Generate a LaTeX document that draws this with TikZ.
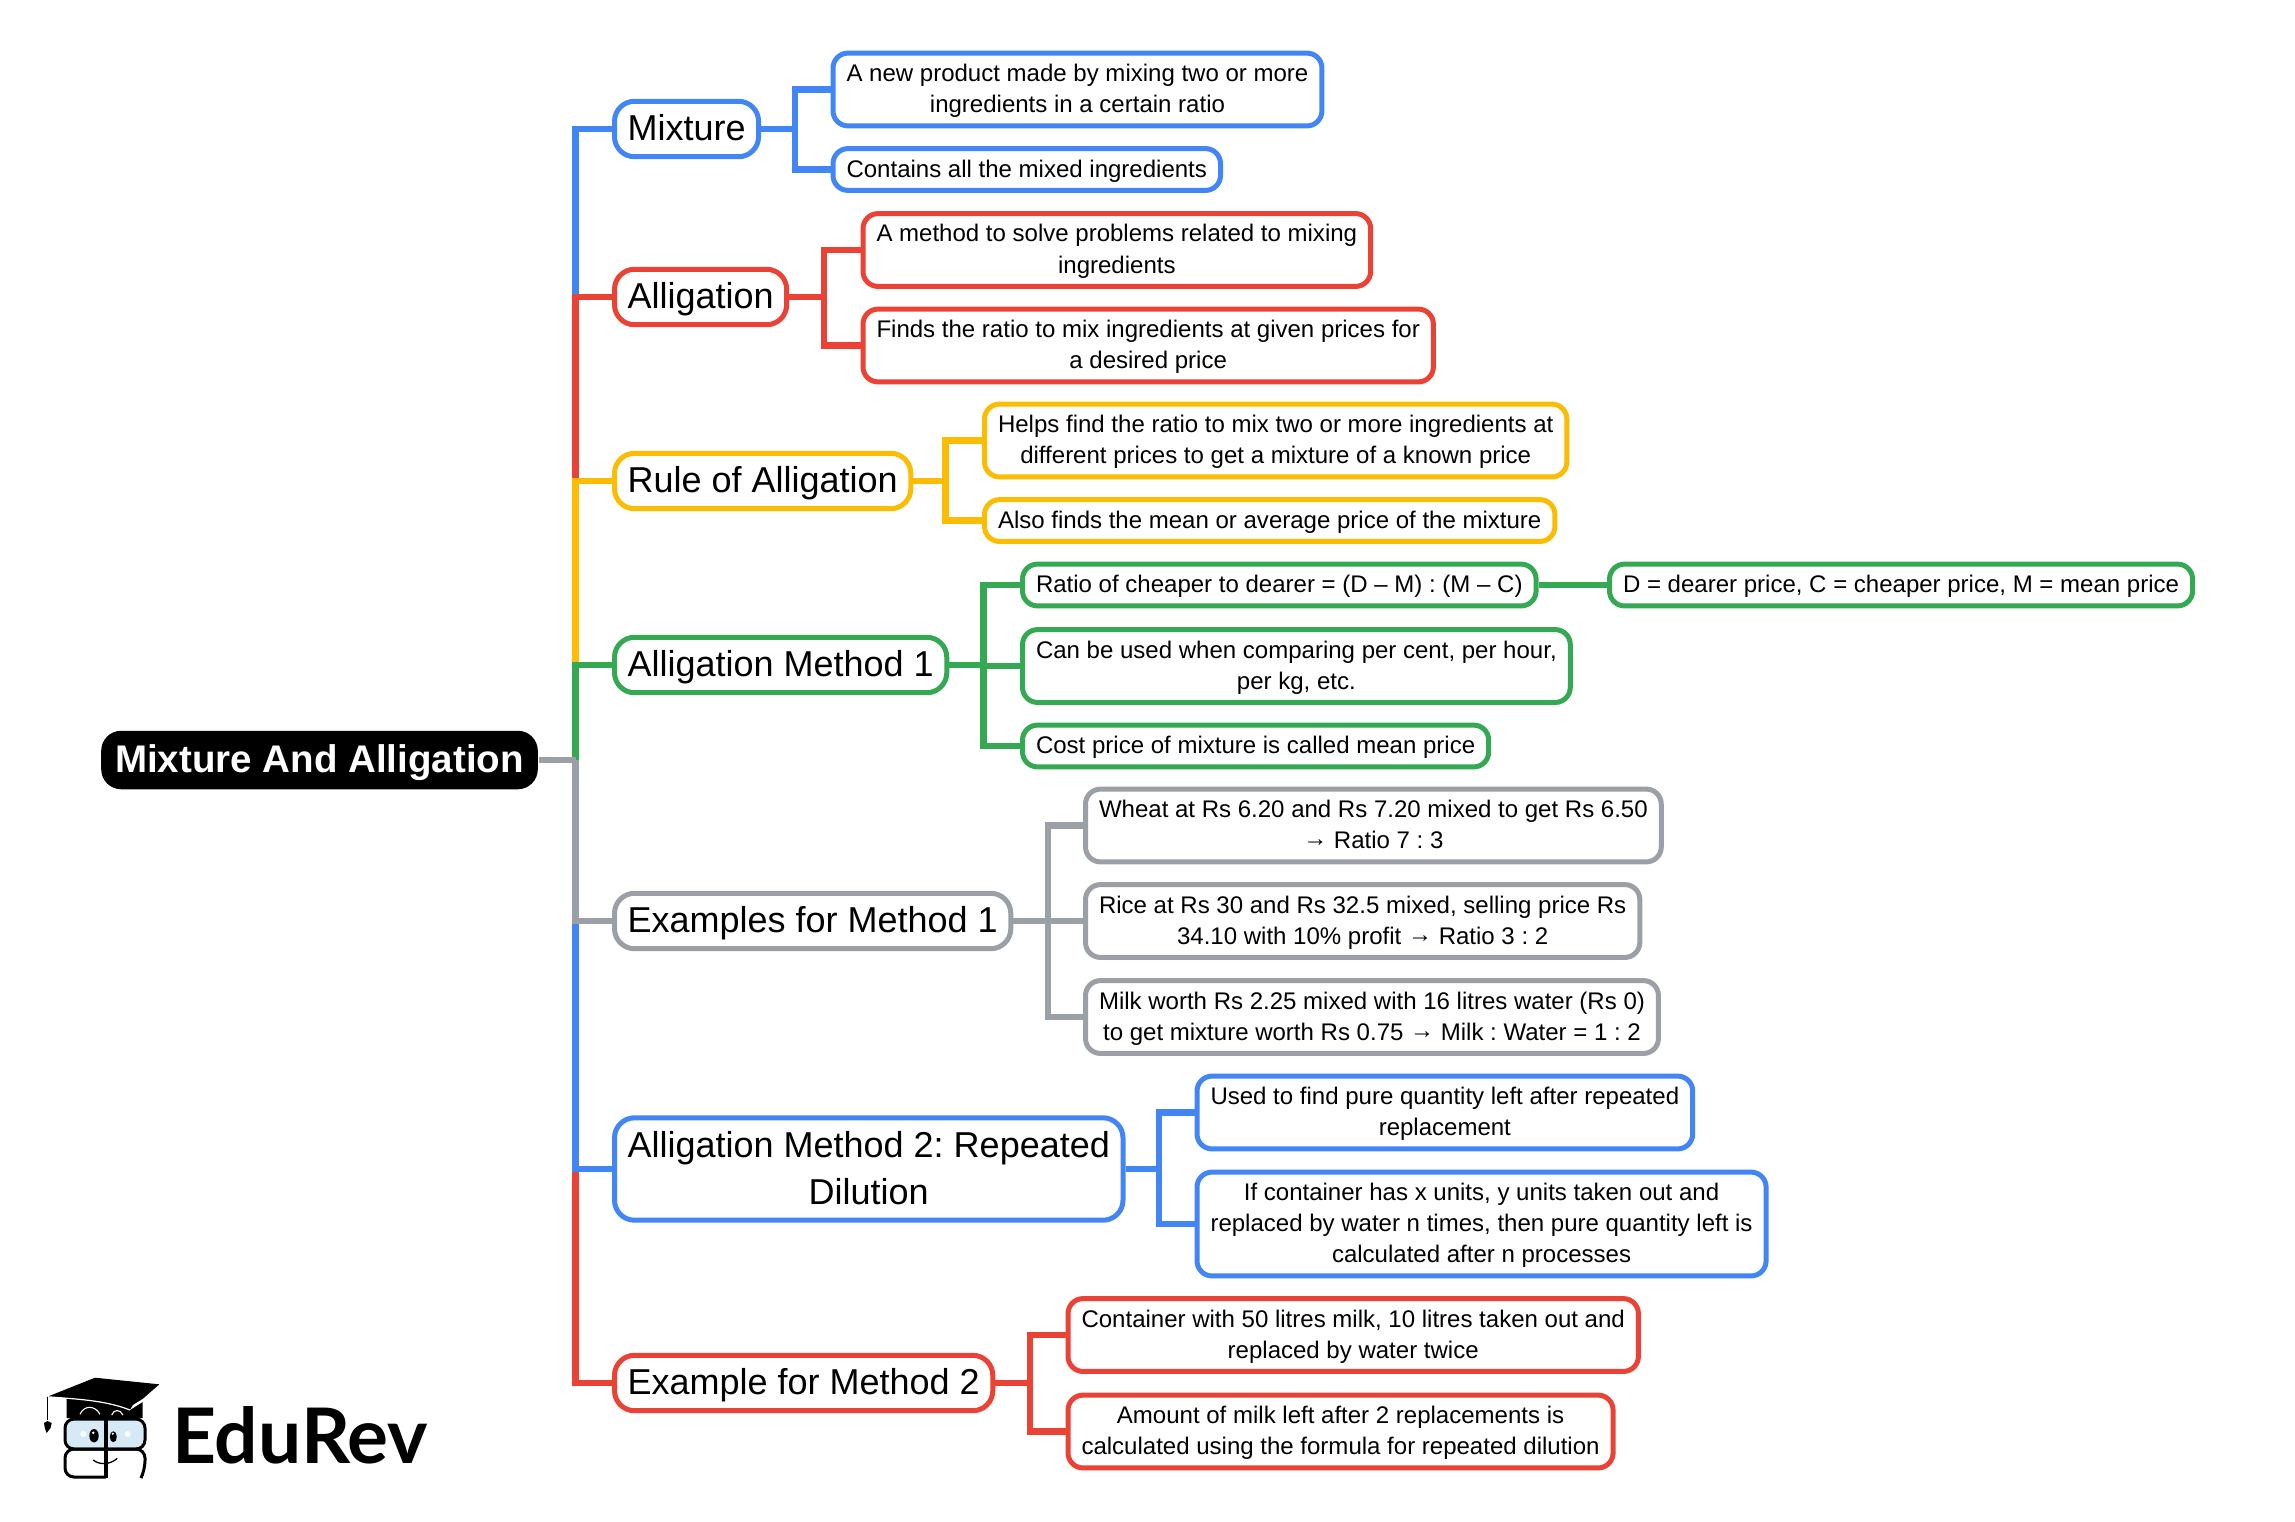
\documentclass[tikz,border=0pt]{standalone}
\usepackage{fontspec}
\setmainfont{Liberation Sans}
\newfontfamily\logofont{Lato}
\frenchspacing
\definecolor{cblue}{HTML}{4285F4}
\definecolor{cred}{HTML}{EA4335}
\definecolor{cyellow}{HTML}{FBBC04}
\definecolor{cgreen}{HTML}{34A853}
\definecolor{cgray}{HTML}{9AA0A6}
\definecolor{clens}{HTML}{D6E9F6}
\newcommand{\yields}{\raisebox{0.02cm}{→}}
\tikzset{root/.style={anchor=west,fill=black,text=white,rounded corners=0.2cm,inner xsep=0.14cm,inner ysep=0.14cm,text depth=0.026cm,font=\fontsize{10.95pt}{13.37pt}\selectfont\bfseries}}
\tikzset{topic/.style={anchor=west,draw=#1,line width=0.05cm,rounded corners=0.2cm,align=center,inner xsep=0.13cm,inner ysep=0.135cm,text depth=0.023cm,font=\fontsize{10.24pt}{13.37pt}\selectfont}}
\tikzset{leaf/.style={anchor=west,draw=#1,line width=0.05cm,rounded corners=0.15cm,align=center,inner xsep=0.135cm,inner ysep=0.11cm,text depth=0.024cm,font=\fontsize{6.83pt}{8.82pt}\selectfont}}
\tikzset{link/.style={draw=#1,line width=0.062cm}}
\begin{document}
\begin{tikzpicture}[x=0.01cm,y=-0.01cm]
\useasboundingbox (0,0) rectangle (2295,1521);
\node (root) at (100.5,760) [root] {Mixture And Alligation};
\node (mix) at (612,129) [topic=cblue] {Mixture};
\node (allig) at (612,297) [topic=cred] {Alligation};
\node (rule) at (612,481) [topic=cyellow] {Rule of Alligation};
\node (one) at (612,665) [topic=cgreen] {Alligation Method 1};
\node (exone) at (612,921) [topic=cgray] {Examples for Method 1};
\node (two) at (612,1169) [topic=cblue] {Alligation Method 2: Repeated\\Dilution};
\node (extwo) at (612,1383) [topic=cred] {Example for Method 2};
\coordinate (trunk) at (575.5,760);
\coordinate (mixbus) at (795,129);
\coordinate (alligbus) at (824,297);
\coordinate (rulebus) at (945.5,481);
\coordinate (onebus) at (983.5,665);
\coordinate (exonebus) at (1048,921);
\coordinate (twobus) at (1159,1169);
\coordinate (extwobus) at (1030,1383);
\node (mixa) at (830.5,89.5) [leaf=cblue] {A new product made by mixing two or more\\ingredients in a certain ratio};
\node (mixb) at (830.5,169.5) [leaf=cblue] {Contains all the mixed ingredients};
\node (alliga) at (860.5,250) [leaf=cred] {A method to solve problems related to mixing\\ingredients};
\node (alligb) at (860.5,345.5) [leaf=cred] {Finds the ratio to mix ingredients at given prices for\\a desired price};
\node (rulea) at (982,440.5) [leaf=cyellow] {Helps find the ratio to mix two or more ingredients at\\different prices to get a mixture of a known price};
\node (ruleb) at (982,520.5) [leaf=cyellow] {Also finds the mean or average price of the mixture};
\node (onea) at (1020,585) [leaf=cgreen] {Ratio of cheaper to dearer = (D -- M) : (M -- C)};
\node (oneaa) at (1607,585) [leaf=cgreen] {D = dearer price, C = cheaper price, M = mean price};
\node (oneb) at (1020,666) [leaf=cgreen] {Can be used when comparing per cent, per hour,\\per kg, etc.};
\node (onec) at (1020,746) [leaf=cgreen] {Cost price of mixture is called mean price};
\node (exonea) at (1083,825.5) [leaf=cgray] {Wheat at Rs 6.20 and Rs 7.20 mixed to get Rs 6.50\\\yields{} Ratio 7 : 3};
\node (exoneb) at (1083,921) [leaf=cgray] {Rice at Rs 30 and Rs 32.5 mixed, selling price Rs\\34.10 with 10\% profit \yields{} Ratio 3 : 2};
\node (exonec) at (1083,1017) [leaf=cgray] {Milk worth Rs 2.25 mixed with 16 litres water (Rs 0)\\to get mixture worth Rs 0.75 \yields{} Milk : Water = 1 : 2};
\node (twoa) at (1194.5,1112.5) [leaf=cblue] {Used to find pure quantity left after repeated\\replacement};
\node (twob) at (1194.5,1224) [leaf=cblue] {If container has x units, y units taken out and\\replaced by water n times, then pure quantity left is\\calculated after n processes};
\node (extwoa) at (1065.5,1335) [leaf=cred] {Container with 50 litres milk, 10 litres taken out and\\replaced by water twice};
\node (extwob) at (1065.5,1431.5) [leaf=cred] {Amount of milk left after 2 replacements is\\calculated using the formula for repeated dilution};
\draw[link=cblue] (trunk) |- (mix.west);
\draw[link=cred] (trunk) |- (allig.west);
\draw[link=cyellow] (trunk) |- (rule.west);
\draw[link=cgreen] (trunk) |- (one.west);
\draw[link=cred] (trunk) |- (extwo.west);
\draw[link=cblue] (trunk) |- (two.west);
\draw[link=cgray] (trunk) |- (exone.west);
\draw[link=cgray] (root.east) -- (trunk);
\draw[link=cblue] (mix.east) -- (mixbus) |- (mixa.west) (mixbus) |- (mixb.west);
\draw[link=cred] (allig.east) -- (alligbus) |- (alliga.west) (alligbus) |- (alligb.west);
\draw[link=cyellow] (rule.east) -- (rulebus) |- (rulea.west) (rulebus) |- (ruleb.west);
\draw[link=cgreen] (one.east) -- (onebus) |- (onea.west) (onebus) |- (oneb.west) (onebus) |- (onec.west);
\draw[link=cgreen] (onea.east) -- (oneaa.west);
\draw[link=cgray] (exone.east) -- (exonebus) |- (exonea.west) (exonebus) |- (exoneb.west) (exonebus) |- (exonec.west);
\draw[link=cblue] (two.east) -- (twobus) |- (twoa.west) (twobus) |- (twob.west);
\draw[link=cred] (extwo.east) -- (extwobus) |- (extwob.west) (extwobus) |- (extwoa.west);
\fill (47.3,1396.7) -- (95,1377.7) -- (159.3,1384.3) -- (130,1410) -- (142.7,1402) -- (142.7,1418) -- (66.7,1418) -- (66.7,1398) -- cycle;
\fill[white] (130,1410) -- (142.7,1401) -- (142.7,1399) -- (133,1405) -- cycle;
\draw[white,line width=0.012cm] (47.3,1396.7) .. controls (75,1399) and (105,1400) .. (130,1410);
\draw[white,line width=0.011cm] (80,1414.3) .. controls (84,1405) and (95,1405) .. (100,1414.3) (111.7,1415) .. controls (114,1409) and (120,1409) .. (123,1415);
\draw[line width=0.012cm] (47.3,1396.7) -- (47.3,1420);
\fill (44,1423) -- (47.5,1421) -- (51.7,1423) -- (50.5,1428) -- (46.7,1433) -- (44.8,1428) -- cycle;
\draw[fill=clens,line width=0.03cm,rounded corners=0.09cm] (65,1419) rectangle (145,1449);
\draw[line width=0.03cm,rounded corners=0.09cm] (141.5,1477) -- (145,1470) -- (145,1449) -- (65,1449) -- (65,1477) -- (106,1477);
\draw[line width=0.033cm] (106,1417) -- (106,1478);
\fill (94,1435.7) ellipse (4.7 and 6.7) (113.3,1436.7) ellipse (3.5 and 5.5);
\fill[white] (93.3,1432.7) circle (1.4) (112.8,1433.7) circle (1.2) (83.3,1434) circle (3) (127.7,1434) circle (3);
\draw[line width=0.013cm] (93.3,1460) .. controls (99,1465) and (110,1465) .. (117.3,1458.3);
\node (logo) at (171.5,1463) [anchor=base west,inner sep=0pt,font=\logofont\bfseries\fontsize{21.8pt}{24pt}\selectfont] {EduRev};
\end{tikzpicture}
\end{document}
